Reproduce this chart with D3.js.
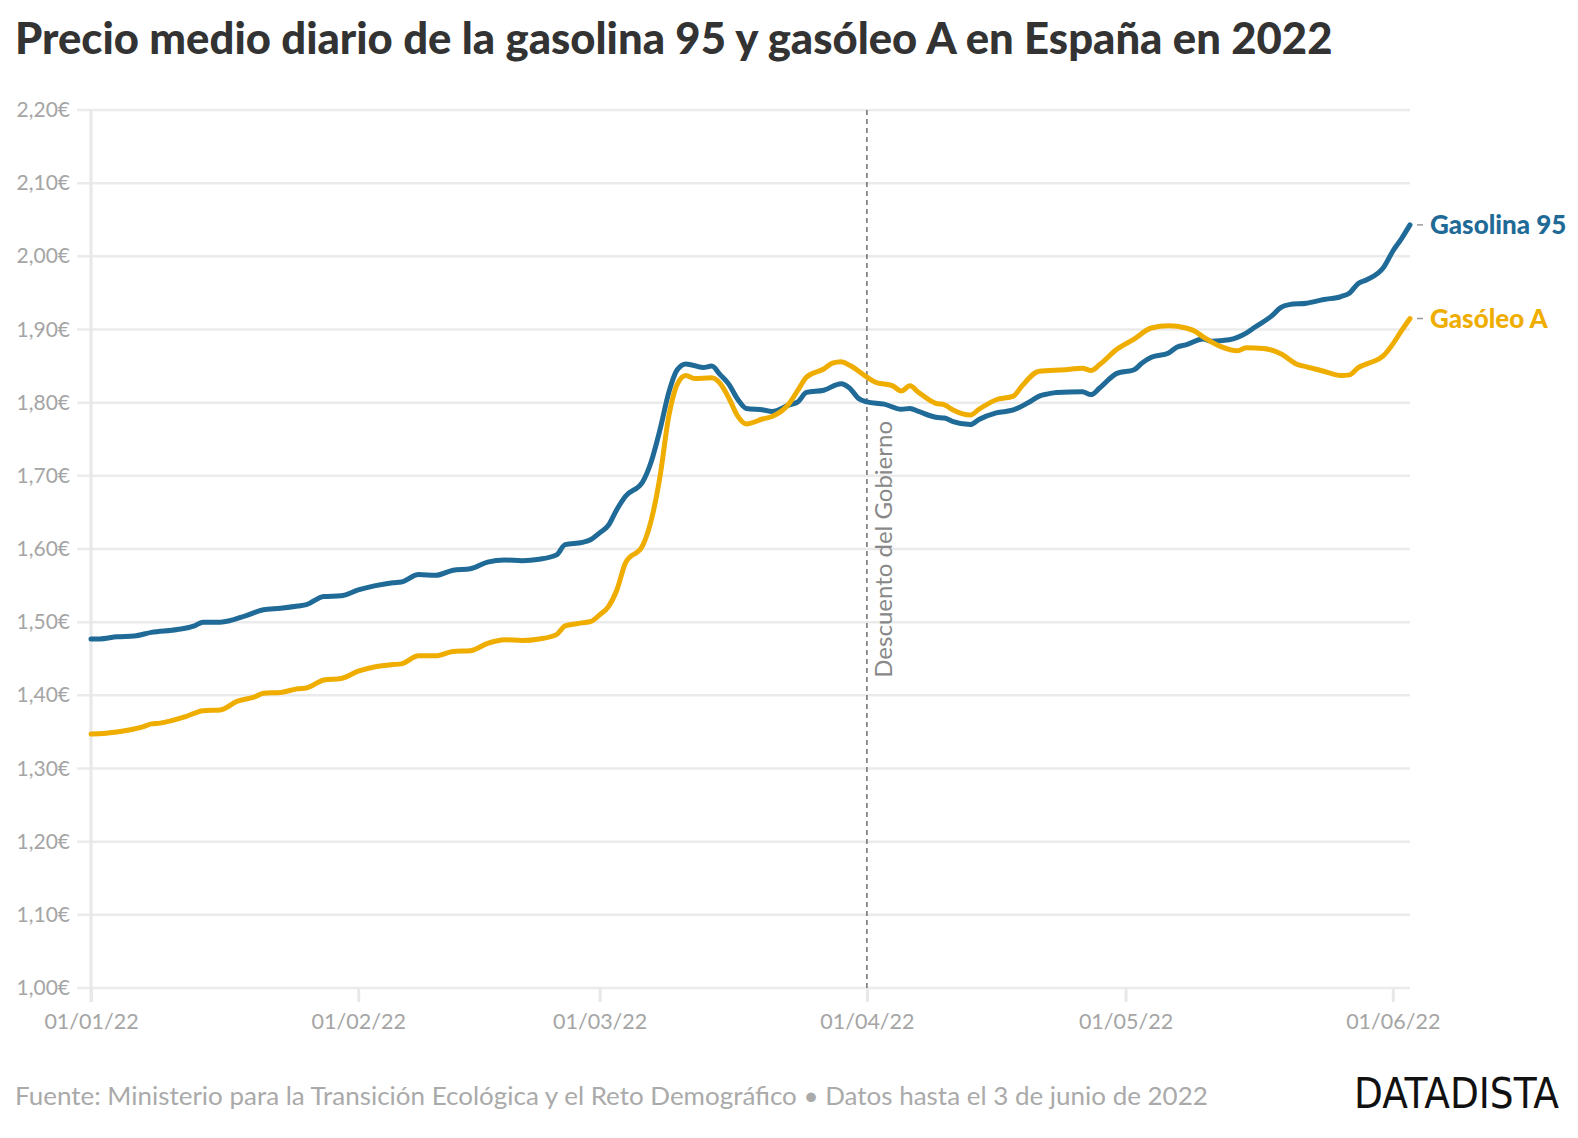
<html>
<head>
<meta charset="utf-8">
<script src="https://d3js.org/d3.v7.min.js"></script>
<style>
  body { margin: 0; background: #fff; }
  text { font-family: Lato, "Open Sans", sans-serif; }
</style>
</head>
<body>
<svg id="chart" width="1578" height="1138"></svg>
<script>
// dias desde el 01/01/22 y precio medio (euros/litro)
const gasolinaDias = [0,1,3,5,7,10,12,13,15,18,20,22,24,25,27,29,31,33,35,36,38,40,42,44,46,48,50,52,54,55,57,58,59,60,61,62,64,65,66,67,68,69,71,72,73,74,75,76,78,79,81,82,83,85,87,88,89,90,92,94,95,96,98,99,100,102,103,105,107,109,110,111,112,115,116,117,119,121,122,123,125,126,127,129,130,132,134,135,137,138,139,141,143,145,146,147,148,150,151,152,153];
const gasolinaPrecios = [1.477,1.477,1.480,1.481,1.486,1.490,1.495,1.500,1.500,1.509,1.517,1.519,1.522,1.524,1.535,1.536,1.544,1.550,1.554,1.555,1.565,1.564,1.571,1.573,1.582,1.585,1.584,1.586,1.592,1.606,1.609,1.613,1.622,1.632,1.654,1.672,1.692,1.720,1.763,1.813,1.845,1.853,1.848,1.850,1.838,1.825,1.805,1.792,1.790,1.788,1.797,1.801,1.814,1.817,1.826,1.820,1.806,1.801,1.798,1.791,1.792,1.788,1.780,1.779,1.774,1.770,1.777,1.786,1.790,1.802,1.809,1.812,1.814,1.815,1.811,1.820,1.840,1.845,1.855,1.862,1.868,1.876,1.879,1.887,1.884,1.886,1.895,1.903,1.919,1.930,1.934,1.936,1.941,1.945,1.950,1.963,1.968,1.986,2.007,2.024,2.043];

const gasoleoDias = [0,3,6,7,8,11,13,15,17,19,20,22,24,25,27,29,31,33,35,36,38,40,42,44,46,48,50,52,54,55,57,58,59,60,61,62,64,65,66,67,68,69,70,72,73,74,75,76,78,79,81,82,83,85,86,87,88,90,91,93,94,95,96,98,99,100,102,103,105,107,108,110,113,115,116,117,119,121,123,125,127,128,129,131,133,134,136,138,140,141,143,145,146,147,148,150,151,152,153];
const gasoleoPrecios = [1.347,1.350,1.357,1.361,1.362,1.371,1.379,1.380,1.392,1.398,1.403,1.404,1.409,1.410,1.421,1.423,1.433,1.439,1.442,1.443,1.454,1.454,1.460,1.461,1.471,1.476,1.475,1.477,1.483,1.495,1.499,1.501,1.510,1.521,1.544,1.581,1.605,1.640,1.699,1.780,1.825,1.837,1.833,1.834,1.826,1.806,1.782,1.771,1.778,1.781,1.799,1.817,1.835,1.846,1.854,1.856,1.851,1.835,1.828,1.823,1.816,1.823,1.814,1.799,1.797,1.790,1.783,1.791,1.804,1.809,1.823,1.843,1.845,1.847,1.844,1.852,1.873,1.887,1.902,1.905,1.902,1.898,1.890,1.877,1.871,1.875,1.874,1.867,1.852,1.849,1.843,1.837,1.838,1.848,1.853,1.865,1.880,1.898,1.915];

const yTicks = [1.0,1.1,1.2,1.3,1.4,1.5,1.6,1.7,1.8,1.9,2.0,2.1,2.2];
const xTickFechas = ["2022-01-01","2022-02-01","2022-03-01","2022-04-01","2022-05-01","2022-06-01"];
const series = ["Gasolina 95", "Gasóleo A"];
const colores = ["#1f6a96", "#efad00"];

const inicio = new Date(2022, 0, 1);
const toDate = d => d3.timeDay.offset(inicio, d);
const parse = d3.timeParse("%Y-%m-%d");

const svg = d3.select("#chart");
const mLeft = 91, mRight = 1410, mTop = 110, mBottom = 988;

const x = d3.scaleTime().domain([inicio, toDate(153)]).range([mLeft, mRight]);
const y = d3.scaleLinear().domain([1, 2.2]).range([mBottom, mTop]);

// rejilla horizontal
svg.append("g")
  .selectAll("line")
  .data(yTicks)
  .join("line")
  .attr("x1", mLeft - 14).attr("x2", mRight)
  .attr("y1", d => y(d)).attr("y2", d => y(d))
  .attr("stroke", "#ebebeb").attr("stroke-width", 2.5);

// eje vertical
svg.append("line")
  .attr("x1", mLeft).attr("x2", mLeft)
  .attr("y1", mTop).attr("y2", mBottom + 14)
  .attr("stroke", "#e8e8e8").attr("stroke-width", 3);

// etiquetas eje y
const fmt = d3.format(".2f");
svg.append("g")
  .selectAll("text")
  .data(yTicks)
  .join("text")
  .attr("x", mLeft - 21)
  .attr("y", d => y(d) + 7)
  .attr("text-anchor", "end")
  .attr("fill", "#a5a5a5")
  .style("font-size", "21px")
  .text(d => fmt(d).replace(".", ",") + "€");

// eje x
const xAxis = svg.append("g")
  .attr("transform", "translate(0," + mBottom + ")")
  .call(d3.axisBottom(x)
    .tickValues(xTickFechas.map(parse))
    .tickSize(14)
    .tickFormat(d3.timeFormat("%d/%m/%y")));
xAxis.select(".domain").remove();
xAxis.selectAll(".tick line").attr("stroke", "#e8e8e8").attr("stroke-width", 3);
xAxis.selectAll(".tick text")
  .attr("fill", "#a5a5a5")
  .attr("dy", "0")
  .attr("y", 41)
  .style("font-size", "21.5px")
  .style("font-family", "Lato, sans-serif");

// linea del descuento
const xDesc = x(parse("2022-04-01"));
svg.append("line")
  .attr("x1", xDesc).attr("x2", xDesc)
  .attr("y1", mTop).attr("y2", mBottom)
  .attr("stroke", "#777").attr("stroke-width", 1.6)
  .attr("stroke-dasharray", "5,4");
svg.append("text")
  .attr("transform", "translate(" + (xDesc + 25) + ",421) rotate(-90)")
  .attr("text-anchor", "end")
  .attr("fill", "#888")
  .style("font-size", "24px")
  .text("Descuento del Gobierno");

// lineas
const linea = d3.line()
  .x(d => x(d.fecha))
  .y(d => y(d.precio))
  .curve(d3.curveMonotoneX);

const datos = [
  gasolinaDias.map((d, i) => ({fecha: toDate(d), precio: gasolinaPrecios[i]})),
  gasoleoDias.map((d, i) => ({fecha: toDate(d), precio: gasoleoPrecios[i]}))
];

svg.append("g")
  .selectAll("path")
  .data(datos)
  .join("path")
  .attr("d", linea)
  .attr("fill", "none")
  .attr("stroke", (d, i) => colores[i])
  .attr("stroke-width", 5)
  .attr("stroke-linejoin", "round")
  .attr("stroke-linecap", "round");

// etiquetas finales
datos.forEach((s, i) => {
  const last = s[s.length - 1];
  const ly = y(last.precio);
  svg.append("line")
    .attr("x1", mRight + 7).attr("x2", mRight + 13)
    .attr("y1", ly).attr("y2", ly)
    .attr("stroke", "#999").attr("stroke-width", 1.5);
  svg.append("text")
    .attr("x", mRight + 20)
    .attr("y", ly + 9)
    .attr("fill", colores[i])
    .style("font-size", "26px")
    .style("font-weight", "900")
    .text(series[i]);
});

// titulo
const titulo = svg.append("text")
  .attr("x", 15).attr("y", 54)
  .attr("fill", "#333")
  .style("font-size", "42px")
  .style("font-weight", "900")
  .text("Precio medio diario de la gasolina 95 y gasóleo A en España en 2022");
const tw = titulo.node().getComputedTextLength();
titulo.style("font-size", (42 * 1318 / tw) + "px");

// fuente
const fuente = svg.append("text")
  .attr("x", 15).attr("y", 1105)
  .attr("fill", "#aaa")
  .style("font-size", "22px")
  .text("Fuente: Ministerio para la Transición Ecológica y el Reto Demográfico • Datos hasta el 3 de junio de 2022");
const fw = fuente.node().getComputedTextLength();
fuente.style("font-size", (22 * 1193 / fw) + "px");

svg.append("text")
  .attr("x", 1559).attr("y", 1108)
  .attr("text-anchor", "end")
  .attr("fill", "#111")
  .attr("textLength", 205)
  .attr("lengthAdjust", "spacingAndGlyphs")
  .style("font-size", "42px")
  .style("font-family", "'Liberation Sans Narrow', 'DejaVu Sans Condensed', sans-serif")
  .text("DATADISTA");
</script>
</body>
</html>
